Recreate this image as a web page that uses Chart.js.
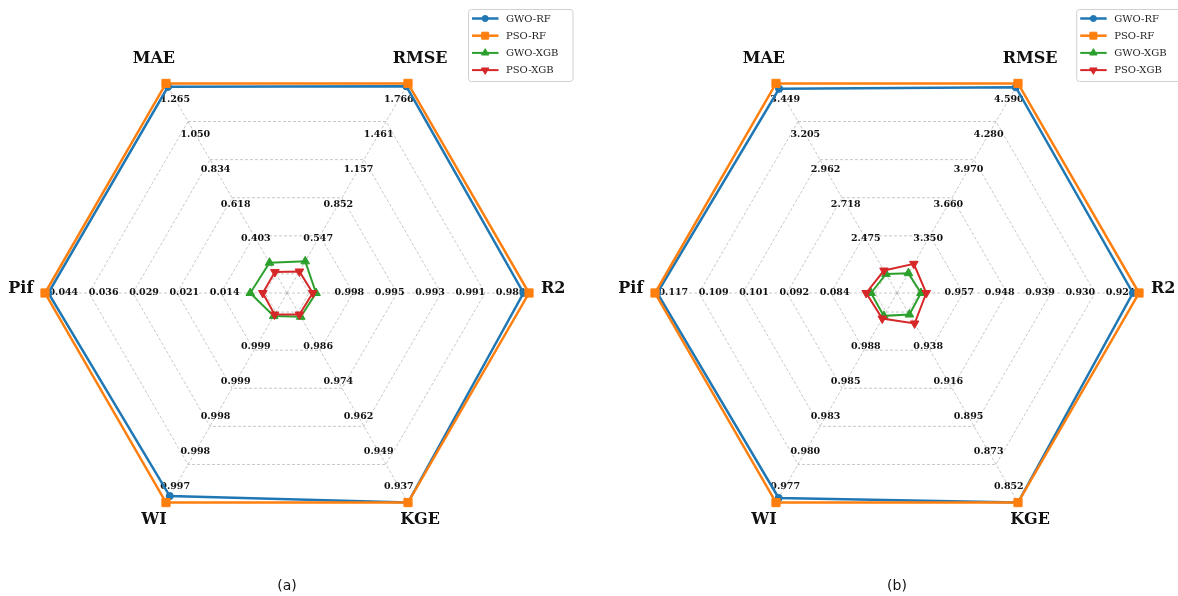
<!DOCTYPE html>
<html>
<head>
<meta charset="utf-8">
<script src="https://cdn.jsdelivr.net/npm/chart.js@4.4.1/dist/chart.umd.min.js"></script>
<style>
  html, body { margin: 0; padding: 0; background: #fff; }
  #wrap { position: relative; width: 1178px; height: 596px; overflow: hidden; }
  canvas { position: absolute; top: 0; }
</style>
</head>
<body>
<div id="wrap">
  <canvas id="chartA" width="589" height="596" style="left:0"></canvas>
  <canvas id="chartB" width="589" height="596" style="left:589px"></canvas>
</div>
<script>
const metrics = ['MAE', 'RMSE', 'R2', 'KGE', 'WI', 'Pif']
const models  = ['GWO-RF', 'PSO-RF', 'GWO-XGB', 'PSO-XGB']

// scaled scores as placed on each axis (0 = centre ring, 1 = outer ring)
const aGwoRF  = [0.982, 0.985, 0.975, 1.0, 0.966, 0.985]
const aPsoRF  = [1.0, 1.0, 1.0, 1.0, 1.0, 1.0]
const aGwoXGB = [0.059, 0.066, 0.032, 0.025, 0.021, 0.067]
const aPsoXGB = [0.010, 0.013, 0.017, 0.013, 0.013, 0.010]

const bGwoRF  = [0.972, 0.98, 0.972, 1.0, 0.976, 0.99]
const bPsoRF  = [1.0, 1.0, 1.0, 1.0, 1.0, 1.0]
const bGwoXGB = [0.0, 0.004, 0.009, 0.013, 0.020, 0.018]
const bPsoXGB = [0.018, 0.053, 0.033, 0.060, 0.034, 0.040]

// axis tick labels, inner -> outer, same order as metrics
const aTicks = [
  ['0.403', '0.618', '0.834', '1.050', '1.265'],
  ['0.547', '0.852', '1.157', '1.461', '1.766'],
  ['0.998', '0.995', '0.993', '0.991', '0.989'],
  ['0.986', '0.974', '0.962', '0.949', '0.937'],
  ['0.999', '0.999', '0.998', '0.998', '0.997'],
  ['0.014', '0.021', '0.029', '0.036', '0.044']
]
const bTicks = [
  ['2.475', '2.718', '2.962', '3.205', '3.449'],
  ['3.350', '3.660', '3.970', '4.280', '4.590'],
  ['0.957', '0.948', '0.939', '0.930', '0.921'],
  ['0.938', '0.916', '0.895', '0.873', '0.852'],
  ['0.988', '0.985', '0.983', '0.980', '0.977'],
  ['0.084', '0.092', '0.101', '0.109', '0.117']
]

const blue   = '#1f77b4'
const orange = '#ff7f0e'
const green  = '#2ca02c'
const red    = '#d62728'
const gridC  = 'rgba(140,140,140,0.6)'
const serif  = "'DejaVu Serif', 'Liberation Serif', serif"

const styles = [
  { color: blue,   pointStyle: 'circle',   radius: 3.6, rotation: 0,   width: 2.5, order: 4 },
  { color: orange, pointStyle: 'rect',     radius: 5.8, rotation: 0,   width: 2.5, order: 3 },
  { color: green,  pointStyle: 'triangle', radius: 5,   rotation: 0,   width: 2,   order: 2 },
  { color: red,    pointStyle: 'triangle', radius: 5,   rotation: 180, width: 2,   order: 1 }
]

function marker(ctx, st, x, y) {
  ctx.save()
  ctx.fillStyle = st.color
  ctx.strokeStyle = st.color
  ctx.lineWidth = 1
  ctx.beginPath()
  if (st.pointStyle === 'circle') {
    ctx.arc(x, y, st.radius, 0, Math.PI * 2)
  } else if (st.pointStyle === 'rect') {
    const s = st.radius * Math.SQRT1_2
    ctx.rect(x - s, y - s, 2 * s, 2 * s)
  } else {
    let rad = st.rotation * Math.PI / 180
    for (let k = 0; k < 3; k++) {
      const px = x + Math.sin(rad) * st.radius
      const py = y - Math.cos(rad) * st.radius
      k ? ctx.lineTo(px, py) : ctx.moveTo(px, py)
      rad += 2 * Math.PI / 3
    }
    ctx.closePath()
  }
  ctx.fill()
  ctx.stroke()
  ctx.restore()
}

// ── Etiquetas de ejes, ticks, leyenda y pie ──
const decor = {
  id: 'decor',
  beforeDatasetsDraw(chart) {
    const r = chart.scales.r
    const ticks = chart.options.plugins.decor.ticks
    const ctx = chart.ctx
    ctx.save()
    ctx.font = 'bold 9.5px ' + serif
    ctx.fillStyle = '#111'
    ctx.textAlign = 'center'
    ctx.textBaseline = 'middle'
    ticks.forEach((list, i) => {
      list.forEach((txt, k) => {
        const p = r.getPointPositionForValue(i, (k + 1) * 1.1 / 6)
        ctx.fillText(txt, p.x, p.y)
      })
    })
    ctx.restore()
  },
  afterDraw(chart) {
    const r = chart.scales.r
    const o = chart.options.plugins.decor
    const ctx = chart.ctx
    ctx.save()
    // axis names
    ctx.font = 'bold 16px ' + serif
    ctx.fillStyle = '#111'
    ctx.textAlign = 'center'
    ctx.textBaseline = 'middle'
    metrics.forEach((m, i) => {
      const p = r.getPointPosition(i, r.drawingArea * 1.1)
      ctx.fillText(m, p.x, p.y - 4)
    })
    // caption
    ctx.font = '14px ' + "'DejaVu Sans', sans-serif"
    ctx.fillText(o.caption, r.xCenter, 586)

    // legend
    const x0 = o.legendX, y0 = 9.5, w = 104.5, h = 72
    ctx.beginPath()
    ctx.roundRect(x0, y0, w, h, 3)
    ctx.fillStyle = 'rgba(255,255,255,0.85)'
    ctx.fill()
    ctx.strokeStyle = '#d0d0d0'
    ctx.lineWidth = 1
    ctx.stroke()
    ctx.font = '10px ' + serif
    ctx.textAlign = 'left'
    models.forEach((name, i) => {
      const st = styles[i]
      const y = y0 + 9 + i * 17.2
      ctx.strokeStyle = st.color
      ctx.lineWidth = st.width
      ctx.beginPath()
      ctx.moveTo(x0 + 3.5, y)
      ctx.lineTo(x0 + 30, y)
      ctx.stroke()
      marker(ctx, Object.assign({}, st, { radius: st.radius * 0.85 }), x0 + 16.7, y)
      ctx.fillStyle = '#222'
      ctx.fillText(name, x0 + 37.5, y + 0.5)
    })
    ctx.restore()
  }
}

function radar(id, series, ticks, caption, pad, legendX) {
  return new Chart(document.getElementById(id), {
    type: 'radar',
    data: {
      labels: metrics,
      datasets: series.map((d, i) => ({
        label: models[i],
        data: d,
        borderColor: styles[i].color,
        backgroundColor: styles[i].color,
        borderWidth: styles[i].width,
        pointStyle: styles[i].pointStyle,
        pointRadius: styles[i].radius,
        pointRotation: styles[i].rotation,
        pointBorderWidth: 1,
        pointBackgroundColor: styles[i].color,
        pointBorderColor: styles[i].color,
        fill: false,
        tension: 0,
        order: styles[i].order
      }))
    },
    options: {
      responsive: false,
      animation: false,
      layout: { padding: pad },
      scales: {
        r: {
          min: -0.1,
          max: 1.0,
          startAngle: -30,
          afterBuildTicks: s => {
            s.ticks = [0, 0.2, 0.4, 0.6, 0.8, 1.0].map(v => ({ value: v }))
          },
          ticks: { display: false },
          pointLabels: { display: false },
          grid: { color: gridC, lineWidth: 0.8 },
          border: { dash: [3, 2] },
          angleLines: { color: gridC, lineWidth: 0.8, borderDash: [3, 2] }
        }
      },
      plugins: {
        legend: { display: false },
        tooltip: { enabled: false },
        decor: { ticks: ticks, caption: caption, legendX: legendX }
      }
    },
    plugins: [decor]
  })
}

radar('chartA', [aGwoRF, aPsoRF, aGwoXGB, aPsoXGB], aTicks, '(a)',
  { left: 45, right: 59, top: 51, bottom: 60 }, 468.5)
radar('chartB', [bGwoRF, bPsoRF, bGwoXGB, bPsoXGB], bTicks, '(b)',
  { left: 66, right: 38, top: 51, bottom: 60 }, 487.7)
</script>
</body>
</html>
